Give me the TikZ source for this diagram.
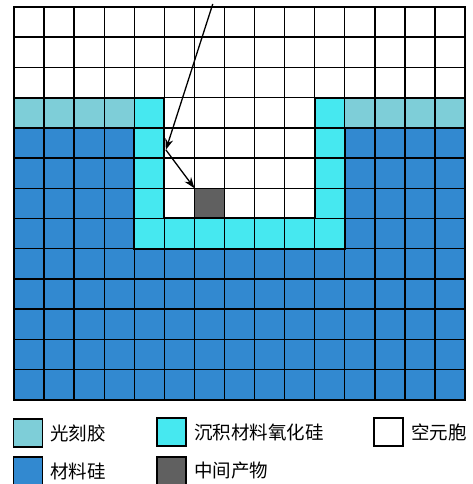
\documentclass[tikz,border=0pt]{standalone}
\usepackage{fontspec}
\newfontfamily\cjk{Noto Sans CJK SC}
\usetikzlibrary{arrows.meta}
\definecolor{resist}{RGB}{126,206,216}
\definecolor{oxide}{RGB}{70,232,240}
\definecolor{sil}{RGB}{50,137,208}
\definecolor{midp}{RGB}{96,96,96}
\tikzset{
  gridline/.style={line width=1.4pt,black},
  legbox/.style={draw=black,line width=1.6pt,minimum width=29pt,minimum height=28pt,inner sep=0pt},
  legtext/.style={anchor=west,inner sep=0pt,font=\cjk\fontsize{18.5}{20}\selectfont},
  arr/.style={line width=1.3pt,-{Stealth[length=11pt,width=8pt]}},
}
\begin{document}
\begin{tikzpicture}[x=1pt,y=-1pt]
\useasboundingbox (0,0) rectangle (473,484);
\begin{scope}[shift={(14,7)},x=30.07pt,y=-30.2pt]
  % white background
  \fill[white] (0,0) rectangle (15,13);
  % silicon
  \fill[sil] (0,7) rectangle (15,13);
  \fill[sil] (0,4) rectangle (4,7);
  \fill[sil] (11,4) rectangle (15,7);
  % photoresist
  \fill[resist] (0,3) rectangle (4,4);
  \fill[resist] (11,3) rectangle (15,4);
  % oxide
  \fill[oxide] (4,3) rectangle (5,8);
  \fill[oxide] (10,3) rectangle (11,8);
  \fill[oxide] (4,7) rectangle (11,8);
  % intermediate product
  \fill[midp] (6,6) rectangle (7,7);
  % grid
  \foreach \i in {0,...,15} \draw[gridline] (\i,0) -- (\i,13);
  \foreach \j in {0,...,13} \draw[gridline] (0,\j) -- (15,\j);
  \draw[line width=2pt] (0,0) rectangle (15,13);
  \draw[line width=2pt] (0,3) -- (5,3) -- (5,7) -- (10,7) -- (10,3) -- (15,3);
  \draw[line width=2pt] (0,4) -- (4,4) -- (4,8) -- (11,8) -- (11,4) -- (15,4);
  % arrow points
  \coordinate (a0) at (6.61,-0.1);
  \coordinate (a1) at (5.05,4.73);
  \coordinate (a2) at (6.0,6.0);
\end{scope}
\draw[arr] (a0) -- (a1);
\draw[arr] (a1) -- (a2);
% legend
\node[legbox,fill=resist] (l1) at (28,433) {};
\node[legtext] (t1) at (50,433) {光刻胶};
\node[legbox,fill=oxide] (l2) at (171.5,432) {};
\node[legtext] (t2) at (194,432) {沉积材料氧化硅};
\node[legbox,fill=white] (l3) at (388.5,432) {};
\node[legtext] (t3) at (411,432) {空元胞};
\node[legbox,fill=sil] (l4) at (28,471) {};
\node[legtext] (t4) at (50,471) {材料硅};
\node[legbox,fill=midp] (l5) at (171.5,471) {};
\node[legtext] (t5) at (194,471) {中间产物};
\end{tikzpicture}
\end{document}
